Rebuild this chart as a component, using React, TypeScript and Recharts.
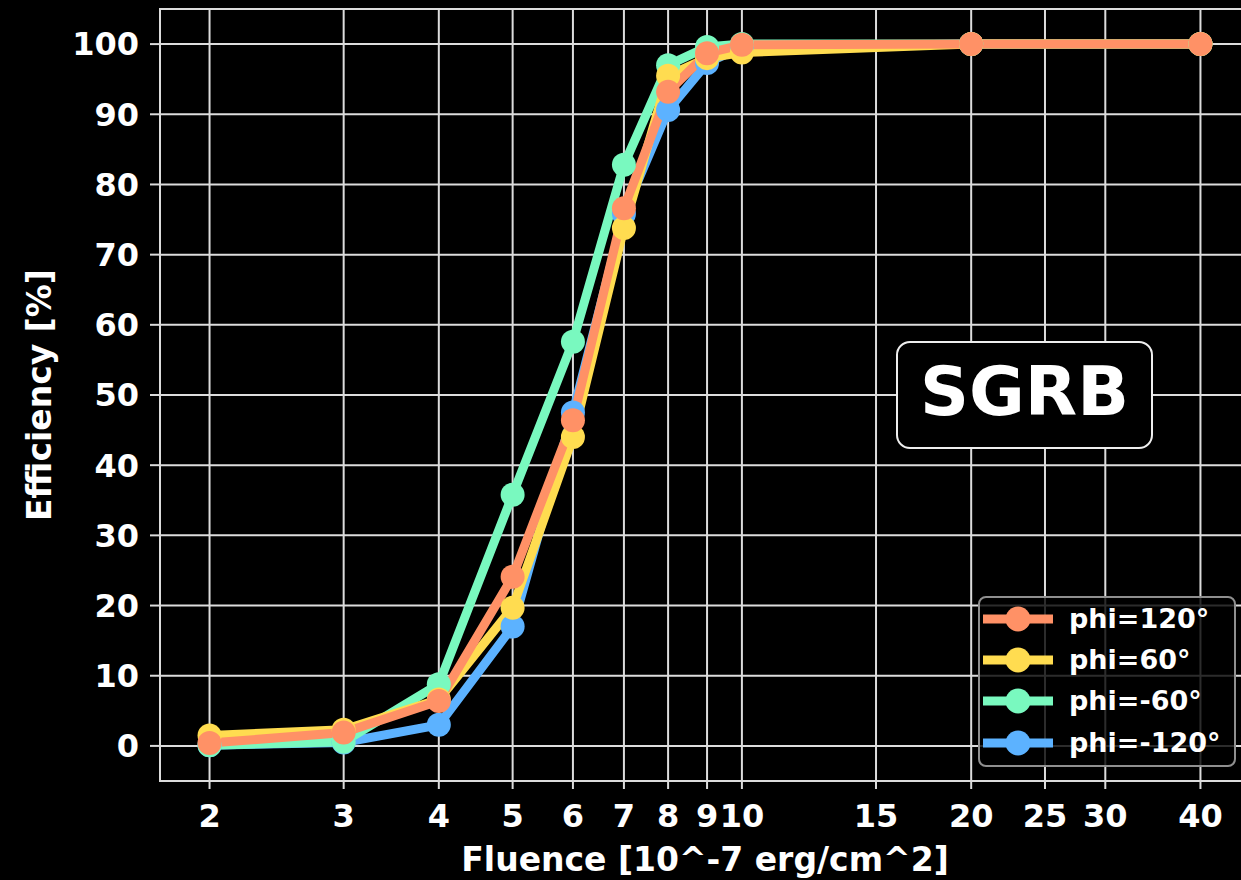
import React from 'react';
import {
  LineChart,
  Line,
  XAxis,
  YAxis,
  CartesianGrid,
  ReferenceArea,
  Legend,
} from 'recharts';

// Detection efficiency vs. fluence for four azimuth angles
const fluence = [2, 3, 4, 5, 6, 7, 8, 9, 10, 20, 40];
const effPhi120 = [0.4, 1.9, 6.4, 24.1, 46.4, 76.6, 93.2, 98.7, 99.9, 100, 100];
const effPhi60 = [1.5, 2.3, 6.6, 19.7, 44.0, 73.8, 95.5, 98.0, 98.8, 100, 100];
const effPhiM60 = [0.1, 0.6, 8.8, 35.8, 57.6, 82.8, 97.0, 99.6, 100, 100, 100];
const effPhiM120 = [0.1, 0.5, 3.0, 17.0, 47.5, 75.8, 90.6, 97.3, 99.6, 100, 100];

const xTicks = [2, 3, 4, 5, 6, 7, 8, 9, 10, 15, 20, 25, 30, 40];
const yTicks = [0, 10, 20, 30, 40, 50, 60, 70, 80, 90, 100];

// legend entries, top to bottom
const legendOrder = ['phi=120°', 'phi=60°', 'phi=-60°', 'phi=-120°'];

// series drawn bottom-to-top
const series = [
  { key: 'm120', name: 'phi=-120°', color: '#5cb2ff', values: effPhiM120 },
  { key: 'm60', name: 'phi=-60°', color: '#79f9bf', values: effPhiM60 },
  { key: 'p60', name: 'phi=60°', color: '#ffdc50', values: effPhi60 },
  { key: 'p120', name: 'phi=120°', color: '#ff9166', values: effPhi120 },
];

const rows = fluence.map((f, i) => {
  const row: Record<string, number> = { fluence: f };
  series.forEach((s) => {
    row[s.key] = s.values[i];
  });
  return row;
});

// 5% padding on each side of the log range, as in the usual autoscaling
const logLo = Math.log10(fluence[0]);
const logHi = Math.log10(fluence[fluence.length - 1]);
const logPad = (logHi - logLo) * 0.05;
const xMin = Math.pow(10, logLo - logPad);
const xMax = Math.pow(10, logHi + logPad);
const yMin = -5;
const yMax = 105;

const FONT = '"DejaVu Sans", sans-serif';
const tickStyle = { fill: '#ffffff', fontFamily: FONT, fontWeight: 700, fontSize: 32 };
const labelStyle = { fill: '#ffffff', fontFamily: FONT, fontWeight: 700, fontSize: 33 };

const renderLegend = (props: any) => {
  const items = [...(props.payload || [])].sort(
    (a: any, b: any) => legendOrder.indexOf(a.value) - legendOrder.indexOf(b.value)
  );
  return (
    <div
      style={{
        boxSizing: 'border-box',
        width: 258,
        height: 171,
        border: '2px solid #8f8f8f',
        borderRadius: 8,
        background: 'rgba(0,0,0,0.8)',
        padding: '0 0 0 3px',
      }}
    >
      {items.map((item: any) => (
        <div
          key={item.value}
          style={{ display: 'flex', alignItems: 'center', height: 41.3 }}
        >
          <svg width={70} height={30} style={{ display: 'block' }}>
            <line x1={0} y1={15} x2={70} y2={15} stroke={item.color} strokeWidth={9} />
            <circle cx={35} cy={15} r={12.5} fill={item.color} />
          </svg>
          <span
            style={{
              marginLeft: 16,
              color: '#ffffff',
              fontFamily: FONT,
              fontWeight: 700,
              fontSize: 27,
              lineHeight: '30px',
              whiteSpace: 'nowrap',
            }}
          >
            {item.value}
          </span>
        </div>
      ))}
    </div>
  );
};

export default function App() {
  return (
    <div
      style={{
        position: 'fixed',
        left: 0,
        top: 0,
        width: 1241,
        height: 880,
        overflow: 'hidden',
        background: '#000000',
      }}
    >
      <LineChart
        width={1260}
        height={880}
        data={rows}
        margin={{ top: 9, right: 10, left: 0, bottom: 0 }}
      >
        <CartesianGrid stroke="#dcdcdc" strokeWidth={2} />
        <XAxis
          dataKey="fluence"
          type="number"
          scale="log"
          domain={[xMin, xMax]}
          allowDataOverflow
          ticks={xTicks}
          interval={0}
          height={99}
          axisLine={false}
          tickLine={{ stroke: '#dcdcdc', strokeWidth: 2 }}
          tickSize={8}
          tickMargin={15}
          tick={tickStyle}
          label={{
            value: 'Fluence [10^-7 erg/cm^2]',
            position: 'insideBottom',
            offset: 9,
            style: labelStyle,
          }}
        />
        <YAxis
          type="number"
          domain={[yMin, yMax]}
          allowDataOverflow
          ticks={yTicks}
          interval={0}
          width={160}
          axisLine={false}
          tickLine={{ stroke: '#dcdcdc', strokeWidth: 2 }}
          tickSize={10}
          tickMargin={11}
          tick={tickStyle}
          label={{
            value: 'Efficiency [%]',
            angle: -90,
            position: 'insideLeft',
            offset: 39,
            style: { ...labelStyle, textAnchor: 'middle' },
          }}
        />
        <ReferenceArea
          x1={xMin}
          x2={xMax}
          y1={yMin}
          y2={yMax}
          fill="none"
          stroke="#dcdcdc"
          strokeWidth={2}
          ifOverflow="visible"
        />
        {series.map((s) => (
          <Line
            key={s.key}
            dataKey={s.key}
            name={s.name}
            type="linear"
            stroke={s.color}
            strokeWidth={9}
            dot={{ r: 12, fill: s.color, stroke: s.color, strokeWidth: 0 }}
            activeDot={false}
            isAnimationActive={false}
          />
        ))}
        <Legend
          layout="vertical"
          align="center"
          verticalAlign="middle"
          content={renderLegend}
          wrapperStyle={{ left: 978, top: 596, width: 258, height: 171 }}
        />
      </LineChart>
      <div
        style={{
          position: 'absolute',
          left: 896,
          top: 341,
          width: 257,
          height: 108,
          boxSizing: 'border-box',
          border: '2px solid #eeeeee',
          borderRadius: 14,
          background: '#000000',
          color: '#ffffff',
          fontFamily: FONT,
          fontWeight: 700,
          fontSize: 68,
          display: 'flex',
          alignItems: 'center',
          justifyContent: 'center',
          paddingBottom: 8,
        }}
      >
        SGRB
      </div>
    </div>
  );
}
